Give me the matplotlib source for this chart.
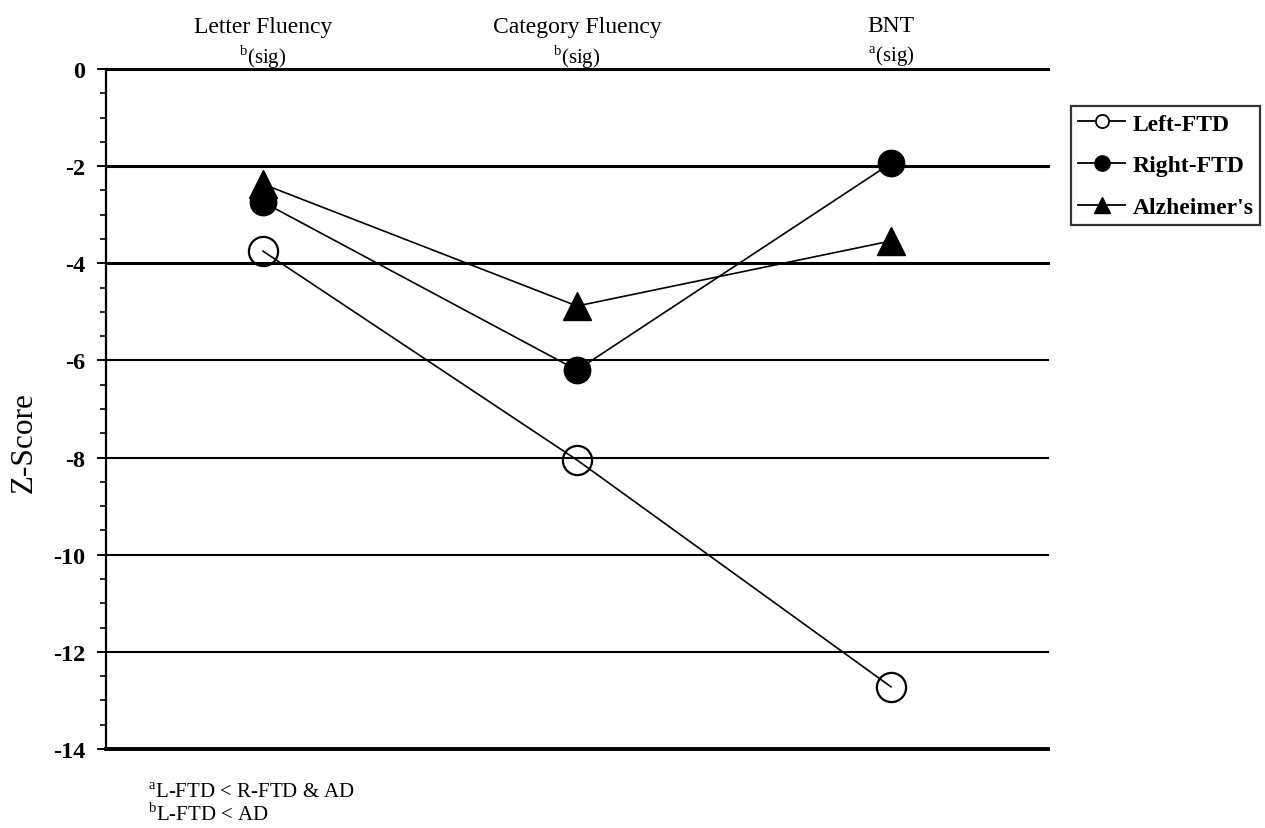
import matplotlib
matplotlib.use("Agg")
import matplotlib.pyplot as plt
from matplotlib.ticker import MultipleLocator
from matplotlib.lines import Line2D

plt.rcParams['font.family'] = ['Liberation Serif', 'DejaVu Serif']

categories = ["Letter Fluency", "Category Fluency", "BNT"]
sig_marks = ["b", "b", "a"]
left_ftd = [-3.75, -8.05, -12.72]
right_ftd = [-2.74, -6.2, -1.94]
alzheimers = [-2.37, -4.88, -3.54]
yticks = [0, -2, -4, -6, -8, -10, -12, -14]

fig = plt.figure(figsize=(12.65, 8.29), dpi=100)
ax = fig.add_axes([106/1265, 1-750/829, 942/1265, 680/829])

x = list(range(len(categories)))
ax.set_xlim(-0.5, 2.5)
ax.set_ylim(-14, 0)

for yv in yticks[:-1]:
    lw = 2.2 if yv in (0, -2, -4) else 1.5
    ax.axhline(yv, color='black', lw=lw, zorder=1, clip_on=False)

ax.plot(x, left_ftd, color='black', lw=1.2, marker='o', markersize=21,
        markerfacecolor='none', markeredgecolor='black', markeredgewidth=1.6,
        label='Left-FTD', zorder=3)
ax.plot(x, right_ftd, color='black', lw=1.2, marker='o', markersize=19,
        markerfacecolor='black', markeredgecolor='black', label='Right-FTD', zorder=4)
ax.plot(x, alzheimers, color='black', lw=1.2, marker='^', markersize=20,
        markerfacecolor='black', markeredgecolor='black', label="Alzheimer's", zorder=4)

for s in ['top', 'right']:
    ax.spines[s].set_visible(False)
ax.spines['left'].set_linewidth(1.6)
ax.spines['bottom'].set_linewidth(2.8)

ax.set_xticks([])
ax.set_yticks(yticks)
ax.set_yticklabels([str(v) for v in yticks], fontweight='bold', fontsize=17.5)
ax.yaxis.set_minor_locator(MultipleLocator(0.5))
ax.tick_params(axis='y', which='major', direction='out', length=6.5, width=1.4, pad=8.5)
ax.tick_params(axis='y', which='minor', direction='out', length=4.5, width=1.2)
ax.set_ylabel("Z-Score", fontsize=22.5)
ax.yaxis.set_label_coords(39/1265, 1-443/829, transform=fig.transFigure)

for xi, cat, sm in zip(x, categories, sig_marks):
    ax.annotate(cat, xy=(xi, 1), xycoords=('data', 'axes fraction'),
                xytext=(0, 43), textcoords='offset pixels', ha='center', va='center',
                fontsize=17, annotation_clip=False)
    ax.annotate(r"$^{\mathregular{%s}}$(sig)" % sm, xy=(xi, 1), xycoords=('data', 'axes fraction'),
                xytext=(0, 13), textcoords='offset pixels', ha='center', va='center',
                fontsize=15, annotation_clip=False)

handles = [
    Line2D([], [], color='black', lw=1.3, marker='o', markersize=9.5, markerfacecolor='white',
           markeredgecolor='black', markeredgewidth=1.3),
    Line2D([], [], color='black', lw=1.3, marker='o', markersize=11, markerfacecolor='black',
           markeredgecolor='black'),
    Line2D([], [], color='black', lw=1.3, marker='^', markersize=12, markerfacecolor='black',
           markeredgecolor='black'),
]
leg = ax.legend(handles, ['Left-FTD', 'Right-FTD', "Alzheimer's"],
                loc='upper left', bbox_to_anchor=(1071/1265, 1-107/829), bbox_transform=fig.transFigure,
                frameon=True, fancybox=False, edgecolor='black', borderpad=0.3, borderaxespad=0,
                prop={'weight': 'bold', 'size': 17}, handlelength=2.0, handletextpad=0.3,
                labelspacing=0.85)
leg.get_frame().set_linewidth(1.6)

fig.text(148/1265, 1-793/829, r"$^{\mathregular{a}}$L-FTD < R-FTD & AD", fontsize=15, va='center')
fig.text(148/1265, 1-815/829, r"$^{\mathregular{b}}$L-FTD < AD", fontsize=15, va='center')

fig.savefig("out.png", dpi=100)
